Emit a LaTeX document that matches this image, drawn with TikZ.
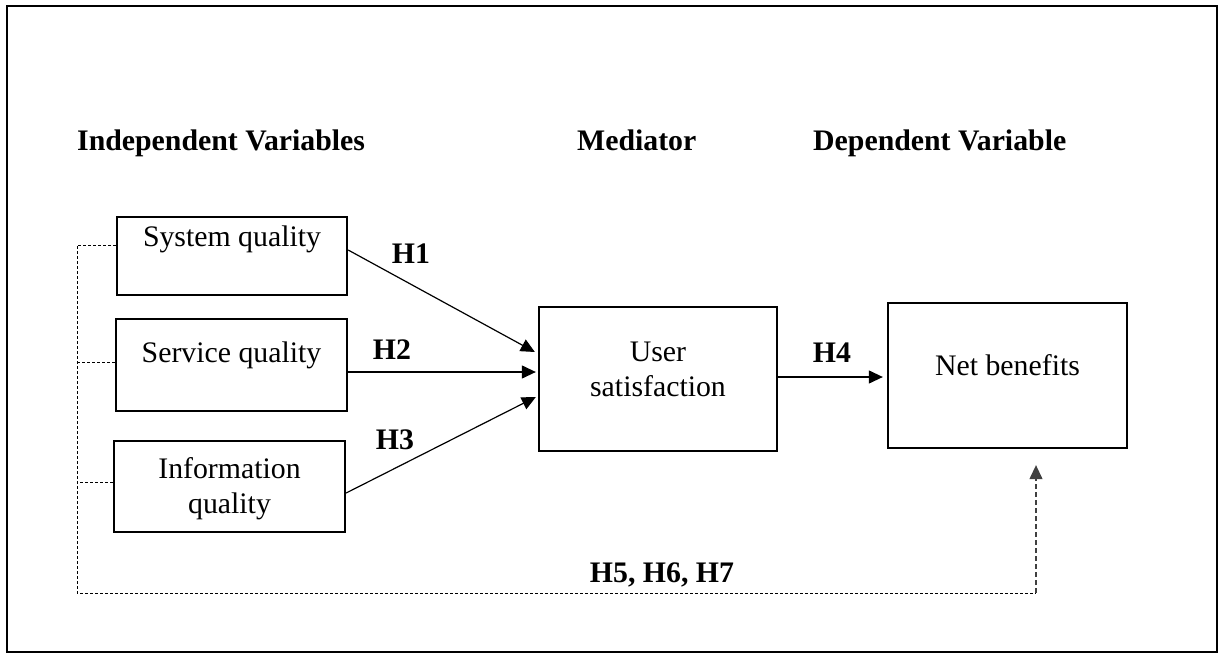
\documentclass[tikz,border=0pt]{standalone}
\usepackage{fontspec}
\setmainfont{Liberation Serif}
\usetikzlibrary{arrows.meta}
\begin{document}
\begin{tikzpicture}[x=1pt,y=-1pt,
  box/.style={draw,line width=2.3pt,inner sep=0pt,minimum width=#1},
  txt/.style={font=\fontsize{29.8}{35}\selectfont,inner sep=0pt,anchor=base,align=center},
  hyp/.style={font=\fontsize{29.8}{35}\selectfont\bfseries,inner sep=0pt,anchor=base},
  head/.style={font=\fontsize{29.8}{35}\selectfont\bfseries,inner sep=0pt,anchor=base west},
  conn/.style={line width=1.2pt,-{Triangle[length=14pt,width=13pt]}},
  dsh/.style={line width=1pt,dash pattern=on 3pt off 2pt},
  dshup/.style={line width=1.2pt,dash pattern=on 5pt off 3pt,draw=black!75,-{Triangle[length=14pt,width=13pt]}}]
\useasboundingbox (0,0) rectangle (1219,653);
\draw[line width=2.4pt] (7,6) rectangle (1217,652);

% headings
\node[head] (hInd) at (77,150) {Independent Variables};
\node[head] (hMed) at (577,150) {Mediator};
\node[head] (hDep) at (813,150) {Dependent Variable};

% boxes
\node[box=230pt,minimum height=78pt] (sys) at (232,256) {};
\node[box=231pt,minimum height=92pt] (serv) at (231.5,365) {};
\node[box=231pt,minimum height=91pt] (info) at (229.5,486.5) {};
\node[box=238pt,minimum height=144pt] (user) at (658,379) {};
\node[box=239pt,minimum height=145pt] (net) at (1007.5,375.5) {};

% box texts
\node[txt] (tSys) at (232,246) {System quality};
\node[txt] (tServ) at (231.5,362) {Service quality};
\node[txt] (tInfo) at (229.5,513) {Information\\quality};
\node[txt] (tUser) at (658,396) {User\\satisfaction};
\node[txt] (tNet) at (1007.5,375) {Net benefits};

% solid arrows
\draw[conn] ([yshift=6pt]sys.east) -- ([yshift=27pt,xshift=-3pt]user.west);
\draw[conn] ([yshift=-7pt]serv.east) -- ([yshift=7pt,xshift=-2pt]user.west);
\draw[conn] ([yshift=-6.5pt]info.east) -- ([yshift=-18pt,xshift=-2pt]user.west);
\coordinate (h4s) at ([yshift=2pt]user.east);
\draw[conn] (h4s) -- ([xshift=-4pt]h4s -| net.west);

% hypothesis labels
\node[hyp] (H1) at (411,263) {H1};
\node[hyp] (H2) at (392,359) {H2};
\node[hyp] (H3) at (395,449) {H3};
\node[hyp] (H4) at (832,362) {H4};
\node[hyp] (H5) at (662,582) {H5, H6, H7};

% dashed connectors
\coordinate (corner) at (77,593);
\coordinate (tip) at ([xshift=28.5pt,yshift=-16pt]net.south);
\coordinate (s1) at ([yshift=11pt]sys.west);
\coordinate (s2) at ([yshift=3pt]serv.west);
\coordinate (s3) at ([yshift=4.5pt]info.west);
\draw[dsh] (s1) -| (corner) -- (tip |- corner);
\draw[dsh] (s2) -- (s2 -| corner);
\draw[dsh] (s3) -- (s3 -| corner);
\draw[dshup] (tip |- corner) -- (tip);
\end{tikzpicture}
\end{document}
